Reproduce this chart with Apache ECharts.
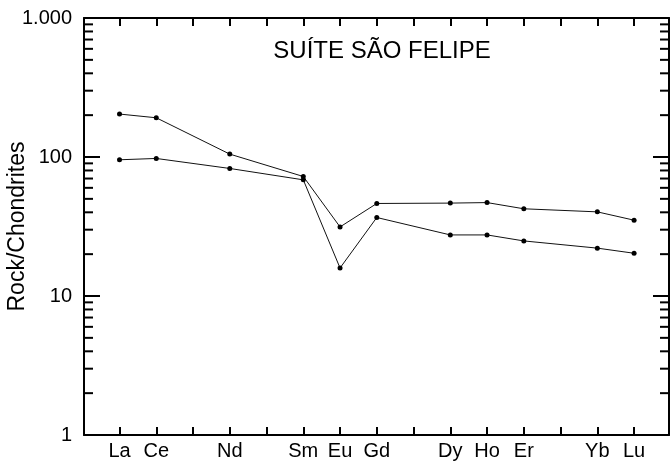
<!DOCTYPE html>
<html>
<head>
<meta charset="utf-8">
<script src="https://cdn.jsdelivr.net/npm/echarts@6/dist/echarts.min.js"></script>
<style>html,body{margin:0;padding:0;background:#fff}#c{width:670px;height:464px}</style>
</head>
<body>
<div id="c"></div>
<script>
// Element order along the x axis (all REE, incl. unlabeled ones)
const elements = ['La','Ce','Pr','Nd','Pm','Sm','Eu','Gd','Tb','Dy','Ho','Er','Tm','Yb','Lu'];
// Elements analysed / labelled
const labeled = ['La','Ce','Nd','Sm','Eu','Gd','Dy','Ho','Er','Yb','Lu'];
// Sample values (Rock/Chondrites)
const upperSample = [203.7,191.5,104.9,72.4,31.4,46.3,46.6,47.0,42.4,40.3,35.1];
const lowerSample = [95.5,97.6,82.7,68.5,15.9,36.7,27.5,27.5,24.9,22.1,20.3];
// Y tick values and labels
const yTickValues = [1,10,100,1000];
const yTickLabels = ['1','10','100','1.000'];
const yMinorTicks = [2,3,4,5,6,7,8,9,20,30,40,50,60,70,80,90,200,300,400,500,600,700,800,900];
const titleText = 'SUÍTE SÃO FELIPE';
const yName = 'Rock/Chondrites';

const FONT = "'Liberation Sans', Arial, Helvetica, sans-serif";
const xIdx = elements.map((e,i)=>i);
const labIdx = labeled.map(e=>elements.indexOf(e));
const XMIN = -0.966, XMAX = 14.95;

const chart = echarts.init(document.getElementById('c'), null, {renderer:'canvas'});
const mkSeries = (vals) => ({
  type:'line',
  data: labeled.map((e,i)=>[elements.indexOf(e), vals[i]]),
  symbol:'circle', symbolSize:5,
  itemStyle:{color:'#000'},
  lineStyle:{color:'#111', width:1},
  xAxisIndex:0, yAxisIndex:0, animation:false, z:3
});
const xCommon = {
  type:'value', min:XMIN, max:XMAX,
  splitLine:{show:false},
  axisLine:{show:true, onZero:false, lineStyle:{color:'#000', width:2}},
  axisTick:{show:true, inside:true, length:8, lineStyle:{color:'#000', width:2}, customValues: xIdx}
};
const yCommon = {
  type:'log', logBase:10, min:1, max:1000, interval:1,
  splitLine:{show:false},
  axisLine:{show:true, onZero:false, lineStyle:{color:'#000', width:2}},
  axisTick:{show:true, inside:true, length:16, lineStyle:{color:'#000', width:2}}
};
chart.setOption({
  animation:false,
  title:{text:titleText, left:377, top:34, textAlign:'center',
    textStyle:{fontFamily:FONT, fontSize:24, fontWeight:'normal', color:'#000'}},
  grid:{left:84, right:1, top:18, bottom:29, containLabel:false, outerBoundsMode:'none'},
  xAxis:[
    Object.assign({}, xCommon, {position:'bottom',
      axisLabel:{show:true, customValues: labIdx, margin:6,
        formatter:(v)=>elements[Math.round(v)],
        fontFamily:FONT, fontSize:20, color:'#000'}}),
    Object.assign({}, xCommon, {position:'top', axisLabel:{show:false}})
  ],
  yAxis:[
    Object.assign({}, yCommon, {position:'left',
      name:yName, nameLocation:'middle', nameGap:55, nameRotate:90, nameMoveOverlap:false,
      nameTextStyle:{fontFamily:FONT, fontSize:23, color:'#000'},
      axisLabel:{show:true, margin:12, fontFamily:FONT, fontSize:20, color:'#000',
        formatter:(v)=>{const i=yTickValues.indexOf(Math.round(v)); return i>=0?yTickLabels[i]:'';}}}),
    Object.assign({}, yCommon, {position:'right', axisLabel:{show:false}})
  ],
  series:[
    mkSeries(upperSample),
    mkSeries(lowerSample),
    {
      type:'custom', xAxisIndex:0, yAxisIndex:0, animation:false, silent:true,
      data: yMinorTicks.map(v=>[0, v]),
      renderItem:(params, api)=>{
        const y = api.coord([0, api.value(1)])[1];
        const cs = params.coordSys;
        const st = {stroke:'#000', lineWidth:2};
        return {type:'group', children:[
          {type:'line', shape:{x1:cs.x, y1:y, x2:cs.x+9, y2:y}, style:st},
          {type:'line', shape:{x1:cs.x+cs.width-9, y1:y, x2:cs.x+cs.width, y2:y}, style:st}
        ]};
      }
    }
  ]
});
</script>
</body>
</html>
